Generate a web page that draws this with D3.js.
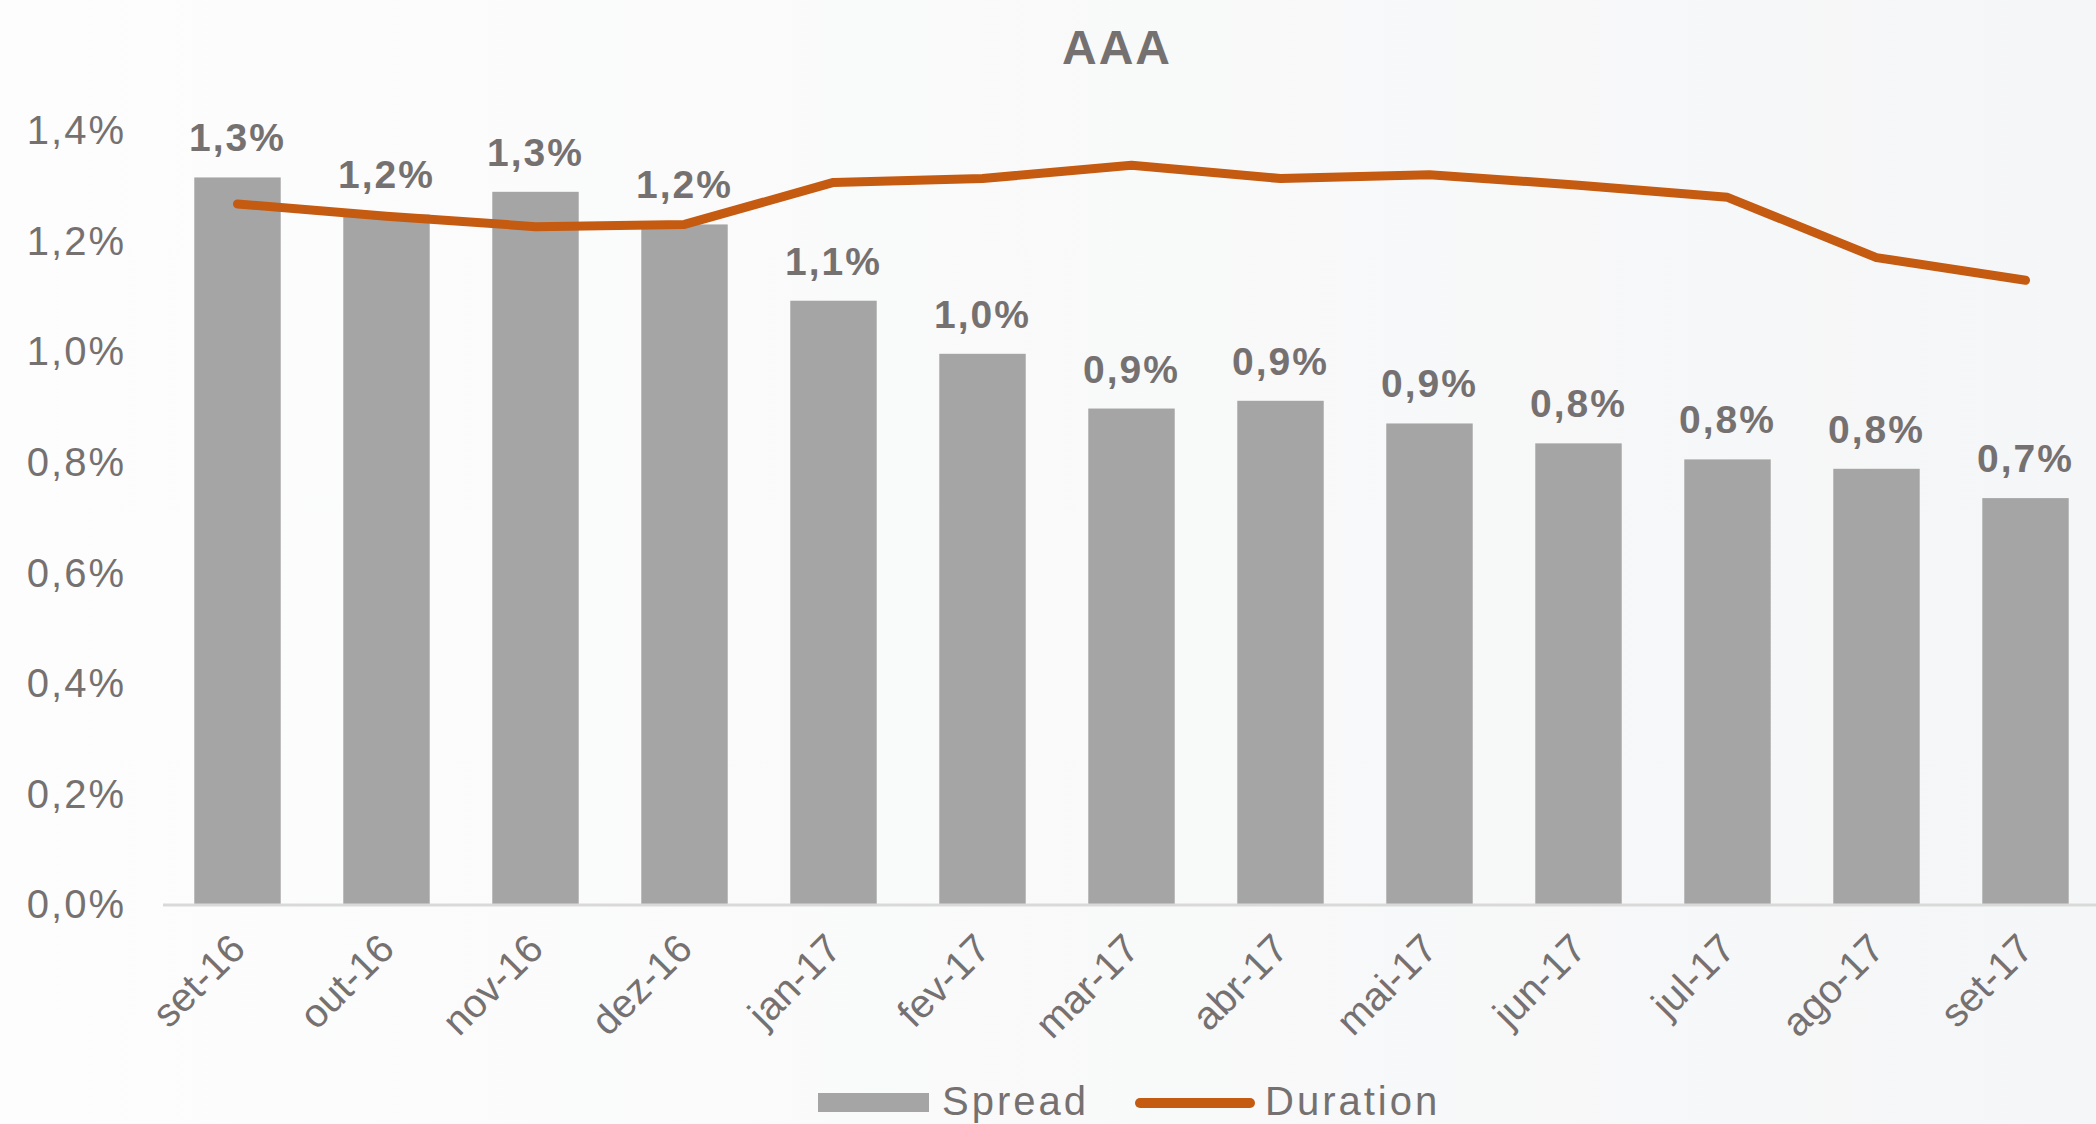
<!DOCTYPE html>
<html>
<head>
<meta charset="utf-8">
<script src="https://cdn.jsdelivr.net/npm/d3@7"></script>
<style>
  html, body { margin: 0; padding: 0; background: #fafafa; overflow: hidden; }
  text { font-family: "Liberation Sans", Arial, sans-serif; fill: #767171; }
</style>
</head>
<body>
<div id="chart"></div>
<script>
// dados
const categories = ['set-16', 'out-16', 'nov-16', 'dez-16', 'jan-17', 'fev-17', 'mar-17',
                    'abr-17', 'mai-17', 'jun-17', 'jul-17', 'ago-17', 'set-17'];
const spread = [1.316, 1.249, 1.29, 1.231, 1.093, 0.997, 0.898, 0.912, 0.871, 0.835, 0.806, 0.789, 0.736];
// duration (eixo secundário oculto, na mesma escala visual)
const duration = [1.268, 1.246, 1.227, 1.231, 1.307, 1.314, 1.338, 1.314, 1.321, 1.302, 1.280, 1.171, 1.130];
const yTicks = [0, 0.2, 0.4, 0.6, 0.8, 1.0, 1.2, 1.4];
const legendNames = ['Spread', 'Duration'];

const width = 2096;
const height = 1124;
const barColor = '#a5a5a5';
const lineColor = '#c55a11';

const pt = d3.formatLocale({ decimal: ',', thousands: '.', grouping: [3], currency: ['R$', ''] });
const fmt = v => pt.format('.1f')(v) + '%';

const svg = d3.select('#chart')
    .append('svg')
    .attr('width', width)
    .attr('height', height);

// fundo levemente cinza
const grad = svg.append('defs').append('linearGradient')
    .attr('id', 'bg').attr('x1', '0').attr('x2', '1').attr('y1', '0').attr('y2', '0');
grad.append('stop').attr('offset', '0').attr('stop-color', '#fdfdfd');
grad.append('stop').attr('offset', '1').attr('stop-color', '#f5f6f7');
svg.append('rect').attr('width', width).attr('height', height).attr('fill', 'url(#bg)');

const x = d3.scaleBand()
    .domain(categories)
    .range([163, 2100])
    .paddingInner(0.42)
    .paddingOuter(0.21);

const y = d3.scaleLinear()
    .domain([0, 1.4])
    .range([905, 131]);

// título
svg.append('text')
    .attr('x', 1117)
    .attr('y', 64)
    .attr('text-anchor', 'middle')
    .style('font-size', '48px')
    .style('font-weight', 'bold')
    .style('letter-spacing', '2px')
    .text('AAA');

// eixo Y (só rótulos)
const yAxis = svg.append('g')
    .attr('transform', 'translate(126,0)')
    .call(d3.axisLeft(y).tickValues(yTicks).tickFormat(fmt).tickSize(0).tickPadding(0));
yAxis.select('.domain').remove();
yAxis.selectAll('text')
    .style('font-size', '40px')
    .style('letter-spacing', '2px')
    .attr('fill', '#767171');

// barras
svg.append('g')
    .selectAll('rect')
    .data(spread)
    .join('rect')
    .attr('x', (d, i) => x(categories[i]))
    .attr('y', d => y(d))
    .attr('width', x.bandwidth())
    .attr('height', d => y(0) - y(d))
    .attr('fill', barColor);

// linha base
svg.append('line')
    .attr('x1', 163).attr('x2', width)
    .attr('y1', y(0)).attr('y2', y(0))
    .attr('stroke', '#d9d9d9')
    .attr('stroke-width', 3);

// eixo X
const xAxis = svg.append('g')
    .attr('transform', `translate(0,${y(0)})`)
    .call(d3.axisBottom(x).tickSize(0).tickPadding(0));
xAxis.select('.domain').remove();
xAxis.selectAll('text')
    .style('font-size', '40px')
    .attr('fill', '#767171')
    .attr('text-anchor', 'end')
    .attr('dy', null)
    .attr('y', 0)
    .attr('transform', 'translate(10,46) rotate(-45)');

// linha de duration
const line = d3.line()
    .x((d, i) => x(categories[i]) + x.bandwidth() / 2)
    .y(d => y(d));

svg.append('path')
    .datum(duration)
    .attr('d', line)
    .attr('fill', 'none')
    .attr('stroke', lineColor)
    .attr('stroke-width', 9)
    .attr('stroke-linecap', 'round')
    .attr('stroke-linejoin', 'round');

// rótulos de dados
svg.append('g')
    .selectAll('text')
    .data(spread)
    .join('text')
    .attr('x', (d, i) => x(categories[i]) + x.bandwidth() / 2)
    .attr('y', d => y(d) - 26)
    .attr('text-anchor', 'middle')
    .style('font-size', '39px')
    .style('font-weight', 'bold')
    .style('letter-spacing', '2px')
    .text(d => fmt(d));

// legenda
const legend = svg.append('g');
legend.append('rect')
    .attr('x', 818).attr('y', 1093)
    .attr('width', 111).attr('height', 19)
    .attr('fill', barColor);
legend.append('text')
    .attr('x', 942).attr('y', 1115)
    .style('font-size', '40px')
    .style('letter-spacing', '3px')
    .text(legendNames[0]);
legend.append('line')
    .attr('x1', 1140).attr('x2', 1250)
    .attr('y1', 1103).attr('y2', 1103)
    .attr('stroke', lineColor)
    .attr('stroke-width', 10)
    .attr('stroke-linecap', 'round');
legend.append('text')
    .attr('x', 1265).attr('y', 1115)
    .style('font-size', '40px')
    .style('letter-spacing', '3px')
    .text(legendNames[1]);
</script>
</body>
</html>
